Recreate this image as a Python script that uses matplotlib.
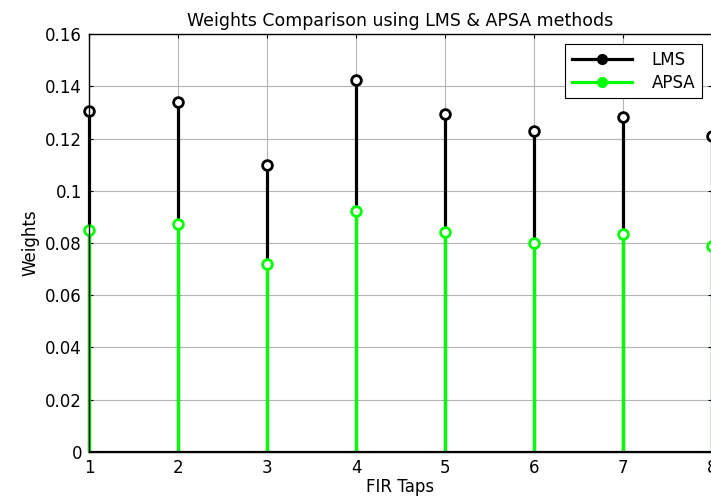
import numpy as np
import matplotlib.pyplot as plt
from matplotlib.lines import Line2D

taps = [1, 2, 3, 4, 5, 6, 7, 8]
lms_weights = [0.1304, 0.1338, 0.1100, 0.1423, 0.1295, 0.1230, 0.1282, 0.1208]
apsa_weights = [0.0848, 0.0871, 0.0718, 0.0922, 0.0843, 0.0800, 0.0836, 0.0789]
y_ticks = [0, 0.02, 0.04, 0.06, 0.08, 0.1, 0.12, 0.14, 0.16]
y_tick_labels = ["0", "0.02", "0.04", "0.06", "0.08", "0.1", "0.12", "0.14", "0.16"]

plt.rcParams["font.family"] = ["DejaVu Sans"]
fs = 12

fig = plt.figure(figsize=(7.11, 5.03), dpi=100)
ax = fig.add_axes([0.1252, 0.1014, 0.8762, 0.831])

green = "#00ff00"

# LMS stems first, APSA drawn over them
for vals, color in [(lms_weights, "black"), (apsa_weights, green)]:
    stems = ax.stem(taps, vals, basefmt=" ")
    stems.stemlines.set_color(color)
    stems.stemlines.set_linewidth(2.3)
    stems.markerline.set_marker("o")
    stems.markerline.set_markersize(7)
    stems.markerline.set_markerfacecolor("white")
    stems.markerline.set_markeredgecolor(color)
    stems.markerline.set_markeredgewidth(2.0)
    stems.markerline.set_clip_on(False)
    stems.stemlines.set_clip_on(False)

ax.axhline(0, color="black", lw=1.6, zorder=4)

ax.set_xlim(1, 8)
ax.set_ylim(0, 0.16)
ax.set_xticks(taps)
ax.set_yticks(y_ticks)
ax.set_yticklabels(y_tick_labels)
ax.tick_params(direction="in", length=3, width=0.8, top=True, right=True,
               labelsize=fs, pad=5)
ax.grid(True, color="#b4b4b4", linewidth=0.8, linestyle="-")
ax.set_axisbelow(True)
for s in ax.spines.values():
    s.set_linewidth(1.0)
    s.set_color("black")

ax.set_title("Weights Comparison using LMS & APSA methods", fontsize=12.5, pad=6)
ax.set_xlabel("FIR Taps", fontsize=fs, labelpad=1)
ax.set_ylabel("Weights", fontsize=fs, labelpad=4)

handles = [
    Line2D([], [], color="black", lw=2.3, marker="o", markersize=7),
    Line2D([], [], color=green, lw=2.3, marker="o", markersize=7),
]
leg = ax.legend(handles, ["LMS", "APSA"], loc="upper right", fancybox=False,
                framealpha=1, edgecolor="black", borderaxespad=0.6,
                handlelength=3.6, handletextpad=1.2, borderpad=0.4,
                labelspacing=0.3, fontsize=fs)
leg.get_frame().set_linewidth(0.8)
for h in leg.legend_handles:
    h.set_markevery([1])

fig.savefig("out.png", dpi=100)
